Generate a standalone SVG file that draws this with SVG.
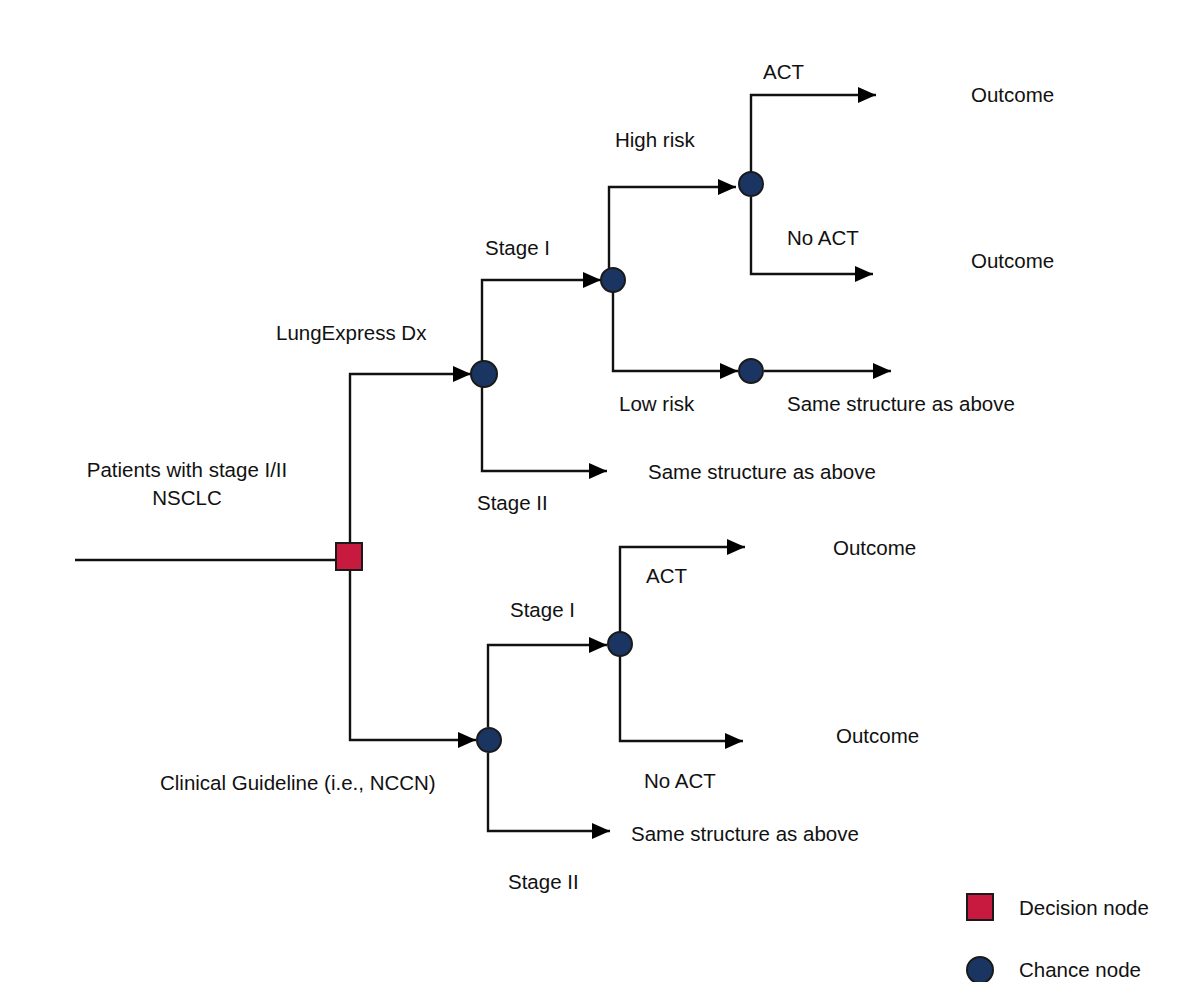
<svg xmlns="http://www.w3.org/2000/svg" width="1180" height="982" viewBox="0 0 1180 982">
<defs>
<marker id="arr" viewBox="0 0 18 16" refX="18" refY="8" markerWidth="18" markerHeight="16" markerUnits="userSpaceOnUse" orient="auto">
<path d="M0,0 L18,8 L0,16 Z" fill="#000"/>
</marker>
</defs>
<style>
text{font-family:"Liberation Sans",Arial,sans-serif;font-size:20.5px;fill:#111}
.ln{fill:none;stroke:#111;stroke-width:2.4}
.ar{marker-end:url(#arr)}
.dec{fill:#c8193f;stroke:#1a1a1a;stroke-width:2}
.ch{fill:#1b3562;stroke:#1a1a1a;stroke-width:2}
</style>
<rect width="1180" height="982" fill="#fff"/>
<g id="connectors">
<path class="ln" d="M75,560 H336"/>
<path class="ln ar" d="M350,543 V374 H471"/>
<path class="ln ar" d="M350,570 V740 H476"/>
<path class="ln ar" d="M482,361 V280 H601"/>
<path class="ln ar" d="M482,387 V471 H607"/>
<path class="ln ar" d="M609,268 V187 H736"/>
<path class="ln ar" d="M613,292 V371 H738"/>
<path class="ln ar" d="M751,173 V95 H876"/>
<path class="ln ar" d="M751,197 V274 H873"/>
<path class="ln ar" d="M764,371 H891"/>
<path class="ln ar" d="M488,727 V645 H607"/>
<path class="ln ar" d="M488,753 V831 H610"/>
<path class="ln ar" d="M620,632 V547 H745"/>
<path class="ln ar" d="M620,656 V741 H743"/>
</g>
<g id="decision"><rect class="dec" x="336" y="543" width="26" height="27"/></g>
<g id="chance-lungexpress"><circle class="ch" cx="484" cy="374" r="13"/></g>
<g id="chance-stage-lx"><circle class="ch" cx="613" cy="280" r="12"/></g>
<g id="chance-high-risk"><circle class="ch" cx="751" cy="184" r="12"/></g>
<g id="chance-low-risk"><circle class="ch" cx="751" cy="371" r="12"/></g>
<g id="chance-guideline"><circle class="ch" cx="489" cy="740" r="12"/></g>
<g id="chance-stage-cg"><circle class="ch" cx="620" cy="644" r="12"/></g>
<g id="labels">
<text x="763" y="79">ACT</text>
<text x="971" y="102">Outcome</text>
<text x="615" y="147">High risk</text>
<text x="787" y="245">No ACT</text>
<text x="971" y="268">Outcome</text>
<text x="485" y="255">Stage I</text>
<text x="276" y="340">LungExpress Dx</text>
<text x="619" y="411">Low risk</text>
<text x="787" y="411">Same structure as above</text>
<text x="648" y="479">Same structure as above</text>
<text x="477" y="510">Stage II</text>
<text x="187" y="477" text-anchor="middle">Patients with stage I/II</text>
<text x="187" y="505" text-anchor="middle">NSCLC</text>
<text x="833" y="555">Outcome</text>
<text x="646" y="583">ACT</text>
<text x="510" y="617">Stage I</text>
<text x="836" y="743">Outcome</text>
<text x="644" y="788">No ACT</text>
<text x="160" y="790">Clinical Guideline (i.e., NCCN)</text>
<text x="631" y="841">Same structure as above</text>
<text x="508" y="889">Stage II</text>
</g>
<g id="legend-decision"><rect class="dec" x="967" y="894" width="26" height="26"/><text x="1019" y="915">Decision node</text></g>
<g id="legend-chance"><circle class="ch" cx="980" cy="970" r="13"/><text x="1019" y="977">Chance node</text></g>
</svg>
